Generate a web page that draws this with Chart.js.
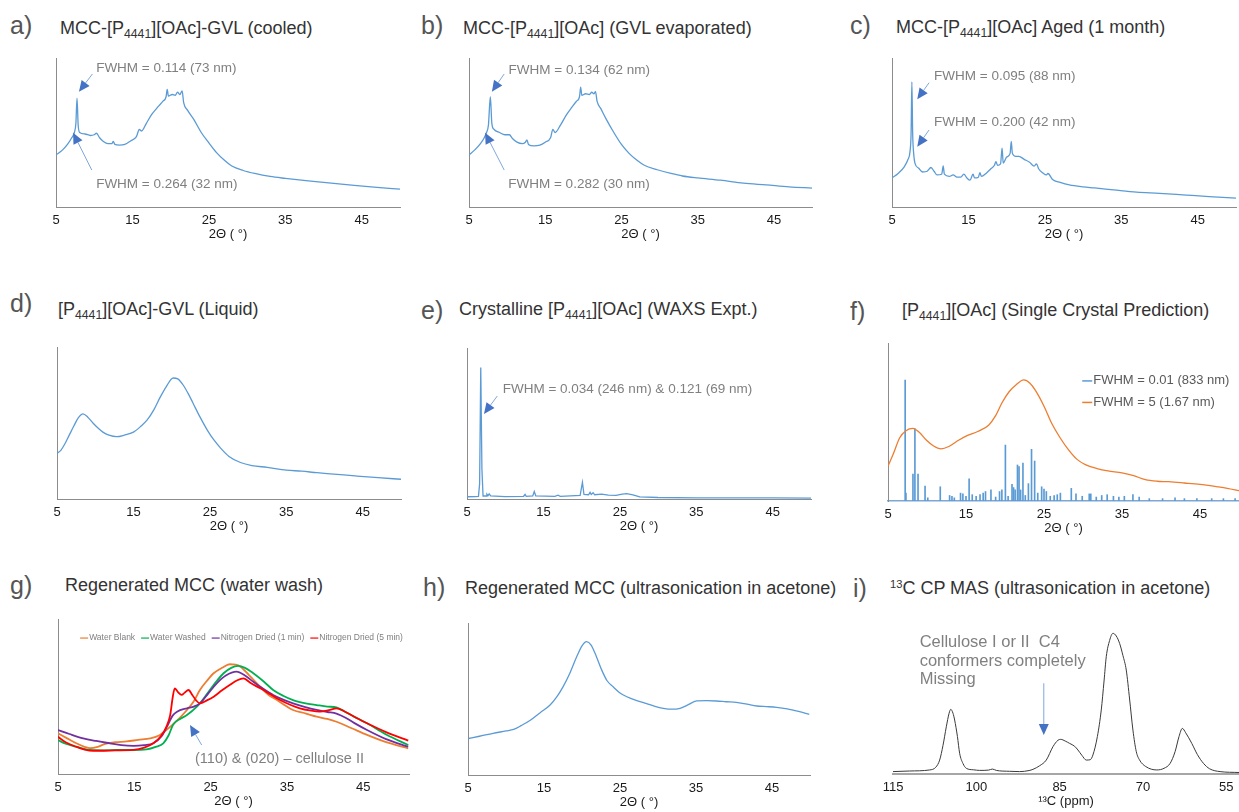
<!DOCTYPE html>
<html>
<head>
<meta charset="utf-8">
<script src="https://cdn.jsdelivr.net/npm/chart.js@4.4.1/dist/chart.umd.min.js"></script>
<style>
  html, body { margin: 0; padding: 0; background: #fff; }
  body { position: relative; width: 1239px; height: 812px; overflow: hidden; font-family: "Liberation Sans", Arial, sans-serif; }
  .lab { position: absolute; font-size: 25px; line-height: 25px; color: #555; }
  .ttl { position: absolute; font-size: 18px; line-height: 18px; color: #333; white-space: nowrap; }
  .ttl sub { font-size: 0.68em; vertical-align: -0.3em; line-height: 0; }
  .ttl sup { font-size: 0.62em; vertical-align: 0.55em; line-height: 0; }
  canvas { position: absolute; }
</style>
</head>
<body>
<div class="lab" style="left:10px;top:13px">a)</div>
<div class="ttl" style="left:60px;top:19px">MCC-[P<sub>4441</sub>][OAc]-GVL (cooled)</div>
<div class="lab" style="left:421px;top:13px">b)</div>
<div class="ttl" style="left:463px;top:19px">MCC-[P<sub>4441</sub>][OAc] (GVL evaporated)</div>
<div class="lab" style="left:850px;top:13px">c)</div>
<div class="ttl" style="left:896px;top:18px">MCC-[P<sub>4441</sub>][OAc] Aged (1 month)</div>
<div class="lab" style="left:10px;top:291px">d)</div>
<div class="ttl" style="left:58px;top:300px">[P<sub>4441</sub>][OAc]-GVL (Liquid)</div>
<div class="lab" style="left:421px;top:298px">e)</div>
<div class="ttl" style="left:459px;top:300px">Crystalline [P<sub>4441</sub>][OAc] (WAXS Expt.)</div>
<div class="lab" style="left:850px;top:299px">f)</div>
<div class="ttl" style="left:902px;top:301px">[P<sub>4441</sub>][OAc] (Single Crystal Prediction)</div>
<div class="lab" style="left:10px;top:573px">g)</div>
<div class="ttl" style="left:65px;top:576px">Regenerated MCC (water wash)</div>
<div class="lab" style="left:423px;top:575px">h)</div>
<div class="ttl" style="left:465px;top:579px">Regenerated MCC (ultrasonication in acetone)</div>
<div class="lab" style="left:853px;top:576px">i)</div>
<div class="ttl" style="left:890px;top:579px"><sup>13</sup>C CP MAS (ultrasonication in acetone)</div>

<script>
// ---- data (y in % of plot height) ----
const XTICKS = [5, 15, 25, 35, 45];
const PPM_TICKS = [115, 100, 85, 70, 55];

const aX = [5, 5.8, 6.5, 7, 7.4, 7.6, 7.75, 7.9, 8.1, 8.8, 9.5, 10, 10.3, 10.7, 11.2, 11.8, 12.3, 12.5, 12.7, 13.3, 14, 14.8, 15.5, 15.9, 16.2, 16.8, 17.5, 18.3, 19, 19.4, 19.55, 19.7, 20.2, 20.6, 20.9, 21.2, 21.5, 21.7, 22.2, 23, 24, 25, 26, 27, 28, 29.5, 31, 33, 35, 38, 41, 44, 47, 50];
const aY = [35, 38, 42, 46, 50, 56, 73, 55, 50, 49, 48, 48.5, 49.5, 46.5, 44, 42.5, 42.5, 44, 42, 41.5, 42, 44.5, 47, 52, 51, 56, 62, 67, 71, 74, 79, 74.5, 75.5, 75, 77, 75.5, 78, 70, 65, 59, 50, 43, 36.5, 31.5, 27.5, 24.5, 22.5, 20.5, 19.2, 17.5, 16, 14.5, 13.2, 12];

const bX = [5, 5.8, 6.5, 7, 7.3, 7.55, 7.8, 8, 8.3, 9, 9.7, 10.3, 10.7, 11.3, 12, 12.4, 12.6, 12.8, 13.5, 14.3, 15, 15.7, 16, 16.3, 17, 17.8, 18.5, 19.1, 19.5, 19.65, 19.8, 20.3, 20.8, 21.1, 21.4, 21.6, 21.8, 22.3, 23, 24, 25, 26, 27, 28, 29.7, 31.5, 33, 35, 38, 41, 44, 47, 50];
const bY = [35, 38.5, 42.5, 46.5, 50, 55, 74, 56, 52, 50, 48.5, 48.5, 46, 43.5, 42.5, 43.5, 45, 42, 41, 41.5, 43.5, 46.5, 52, 50, 55, 62, 67, 71, 74, 80.5, 75, 76, 75.5, 77, 76, 77.5, 71, 66, 59, 50, 42, 36, 31.5, 28, 25, 22.5, 20.8, 19.5, 18, 16, 14.8, 13.5, 12.7];

const cX = [5, 5.8, 6.6, 7.1, 7.35, 7.5, 7.6, 7.7, 7.85, 8, 8.5, 9, 9.6, 10.1, 10.5, 10.9, 11.5, 11.7, 11.85, 12.5, 13, 13.5, 14, 14.4, 14.8, 15.2, 15.6, 15.8, 16.3, 16.5, 16.7, 17.3, 17.9, 18.4, 18.6, 18.8, 19.2, 19.4, 19.55, 20, 20.45, 20.6, 20.75, 21.2, 21.6, 22.3, 23, 23.6, 23.9, 24.2, 24.7, 25.2, 25.4, 26, 27, 28.2, 30, 31.5, 34, 37, 40, 43.5, 46.5, 50];
const cY = [19.5, 22.5, 27, 32, 37, 50, 84, 50, 35, 29.5, 26, 23.5, 24, 26.5, 24, 21.5, 22, 27.5, 22, 20.5, 21.5, 20, 20, 22, 19.5, 18, 22, 19.5, 20, 23, 20.5, 22.5, 25.5, 28, 30.5, 28, 29, 39.5, 29.5, 33.5, 36, 44, 36, 34, 34, 32, 30, 27.5, 29, 25.5, 23, 21.5, 22.5, 18.5, 16.5, 14.8, 13.5, 12.8, 11.5, 10, 9.2, 8, 7, 6];

const dX = [5, 5.5, 6, 6.6, 7.2, 7.8, 8.4, 9, 9.7, 10.4, 11, 11.8, 12.8, 13.8, 15, 16, 16.8, 17.7, 18.5, 19.3, 20.2, 20.8, 21.5, 22.2, 22.8, 23.7, 24.7, 25.5, 26.4, 27.5, 29, 30.5, 32.5, 35, 37, 39, 41.2, 44, 47, 50];
const dY = [30, 32, 36, 42, 48, 53.5, 56, 54, 50, 46.5, 44, 42, 41, 42, 44, 48, 52, 59, 67, 74, 79.6, 79, 75, 69, 63, 54, 45, 39, 33.5, 28, 24, 22, 20.8, 19, 18.3, 17.3, 16.4, 15.2, 14, 13];

const eX = [5, 6, 6.5, 6.65, 6.8, 6.95, 7.1, 7.5, 7.6, 7.75, 7.9, 8.1, 10, 12.4, 12.6, 12.75, 13.6, 13.8, 14, 16.5, 16.9, 17.2, 19.8, 20.1, 20.3, 20.9, 21.1, 21.25, 21.5, 21.7, 22.6, 23.5, 24.5, 25.3, 25.9, 26.7, 27.6, 30, 35, 40, 45, 50];
const eY = [1.5, 1.6, 1.8, 10, 87, 20, 2, 2, 3.2, 2.2, 3.4, 2, 1.6, 1.8, 3, 1.8, 2, 5, 2, 1.8, 2.5, 1.8, 2.4, 11, 3, 2.8, 4.4, 3, 4.2, 2.8, 3.2, 2.6, 2.4, 3.2, 3.5, 2.8, 1.4, 1, 0.8, 0.7, 0.7, 0.6];

const fBroadX = [5, 5.7, 6.5, 7.3, 8.2, 9, 9.9, 10.8, 11.8, 12.8, 14.1, 15.2, 16.5, 17.9, 18.8, 19.6, 20.5, 21.4, 22.4, 23.2, 23.9, 25, 26, 27, 28.2, 29.2, 30.3, 31.8, 33.2, 35, 36.5, 38, 39.5, 41, 43, 45, 47.2, 48.5, 50];
const fBroadY = [22, 30, 40, 44.5, 46, 43.5, 38.6, 35, 33, 34.5, 38.6, 41.5, 44, 48, 54, 62, 69, 73.4, 76.6, 74.5, 70, 60, 49, 40.5, 32, 26.5, 23, 20.5, 19, 17.8, 16, 13.5, 12.5, 12.2, 11.4, 10.5, 9, 8, 6.5];
const fStickX = [7.2, 7.3, 8.2, 8.45, 8.85, 9.75, 10.1, 11.7, 12.9, 13.2, 13.5, 14.3, 14.6, 15, 15.4, 15.8, 16.3, 16.8, 17.2, 17.5, 18.2, 18.8, 19.3, 19.6, 20.05, 20.4, 20.9, 21.1, 21.3, 21.6, 21.8, 22, 22.3, 22.6, 23, 23.4, 23.8, 24.2, 24.7, 25, 25.3, 25.8, 26.3, 26.7, 27.1, 28.5, 29.1, 29.9, 30.8, 31, 31.7, 32.4, 33.1, 33.9, 34.6, 35.3, 36.4, 37.2, 38.5, 40.2, 41.8, 43, 44.6, 46.5, 48, 49.5];
const fStickY = [76.6, 5, 17, 45.6, 17, 9.5, 2, 9, 3.5, 3, 2, 5, 4.5, 3, 14, 4, 3, 4, 5, 6, 7, 2.5, 6, 7, 35.4, 3, 10.5, 8.5, 7, 22.8, 21.8, 7, 24, 3.5, 11, 32.7, 25.3, 5, 9, 7.5, 6, 3, 3.5, 4, 5, 8, 4.5, 3, 4.5, 4.5, 2.5, 3.5, 4, 3, 2.5, 3, 4, 2.5, 1.5, 1.5, 2, 1.5, 1.5, 1.5, 1.5, 1.5];

const gBlankX = [5, 6.2, 7.4, 8.5, 9.2, 10.2, 11.2, 12.5, 14, 15.5, 17.1, 18.3, 19.2, 20.5, 21.9, 22.8, 23.6, 24.5, 25.4, 26.5, 27.5, 28.3, 28.9, 30, 31.5, 32.6, 33.7, 35, 35.8, 37.5, 38.9, 40.3, 41.5, 43.5, 45.5, 48, 50.9];
const gBlankY = [26.3, 23, 19.8, 17.5, 16.6, 17.5, 19.5, 20.5, 21, 22, 23, 25, 28.4, 34, 41.3, 47, 54.2, 60, 65, 68.5, 70.8, 70.5, 69.2, 64, 56.3, 51, 47.7, 43.5, 41.3, 39, 37, 35.5, 33.7, 29.5, 25.2, 20.5, 16.6];
const gWashedX = [5, 6, 7.4, 9.2, 11, 12.7, 14.8, 16.6, 17.8, 18.8, 19.5, 20.1, 21, 21.9, 23.2, 24, 24.9, 25.8, 26.7, 27.7, 28.6, 29.5, 30.6, 32, 33.2, 34.5, 35.8, 37.3, 38.9, 40.3, 41.5, 42.5, 43.8, 45.5, 48, 50.9];
const gWashedY = [21.9, 19.5, 17.6, 15.5, 15.3, 15.5, 15.5, 15.9, 17.5, 19.8, 25, 32, 35.5, 38, 43.4, 48, 54.2, 60, 65, 68.5, 69.7, 68.5, 65, 59.5, 54.2, 50.5, 47.7, 45.8, 44.5, 43.5, 43, 40.5, 37, 32.7, 25.5, 18.7];
const gN1X = [5, 6.5, 8.3, 10, 11.8, 13.3, 14.9, 16.3, 17.5, 18.6, 19.5, 20, 20.6, 21.9, 22.8, 23.6, 24.7, 25.8, 27, 28.4, 29.5, 30.6, 31.9, 33.2, 34.5, 35.8, 37.3, 38.9, 40.3, 41.5, 42.8, 43.8, 45.5, 48, 50.9];
const gN1Y = [28.4, 25.8, 23, 21.3, 19.8, 18.6, 18.1, 18.6, 19.8, 24.5, 32.7, 37.5, 40.2, 42.4, 43.5, 45.6, 52, 58.5, 63.5, 66, 63.5, 59.5, 55, 51, 48, 45.6, 43.3, 41.3, 40, 39, 36, 33, 28.4, 22.5, 17.6];
const gN5X = [5, 6, 7.4, 8.5, 9.6, 11, 12.5, 14.9, 16.3, 17.5, 18.5, 19.2, 19.7, 20.05, 20.3, 20.7, 21.2, 21.6, 22.1, 22.6, 23.1, 23.6, 24.5, 25.4, 26.5, 27.5, 28.5, 29.3, 30.3, 31.5, 32.8, 34.1, 35.5, 36.7, 38, 39.3, 40.5, 41.5, 42.5, 44, 45.5, 48, 50.9];
const gN5Y = [24, 20.5, 17.6, 15.8, 15, 15, 15.2, 15.5, 17, 19.8, 24.5, 30.5, 38, 50, 55.3, 53, 51, 52.5, 54.2, 51, 47.5, 45.6, 47.5, 49.9, 54, 57.4, 60.5, 61.7, 58.5, 55.3, 51.5, 47.7, 44.5, 42.4, 41, 40.2, 41.2, 42.4, 40.5, 36.5, 32.7, 27, 21.5];

const hX = [5, 6.5, 8.3, 10, 11, 12, 13.2, 14.5, 15.8, 16.7, 17.5, 18.4, 19.3, 20, 20.6, 21.2, 21.9, 22.6, 23.3, 24.1, 25, 25.9, 27.2, 28.5, 29.6, 30.7, 31.8, 32.9, 33.8, 35.1, 36.4, 37.7, 39, 40.3, 41.7, 43, 44.3, 45.6, 47, 48.5, 49.9];
const hY = [24, 25.5, 27.4, 29, 30, 32.5, 36, 41, 46, 51.5, 58, 67, 77.8, 85, 87.7, 85.5, 77.8, 69, 62, 58, 54, 51.5, 49, 47, 45.2, 43.9, 43.3, 43.9, 45.8, 48.7, 48.9, 48.7, 48.2, 47.8, 46.6, 45.4, 45, 44.5, 43.5, 41.8, 39.9];

const iPpm = [115, 112, 108.4, 107.3, 106.6, 106, 105.4, 104.9, 104.6, 104.2, 103.9, 103.4, 103, 102.4, 101.8, 100.5, 99.4, 97.8, 97.1, 96.4, 94, 92.2, 90.5, 89.8, 88.6, 87.4, 86.2, 85.3, 84.8, 84, 83.2, 82.3, 81.7, 81, 80.2, 79.5, 79, 78.2, 77.5, 77, 76.6, 76, 75.4, 74.8, 74.2, 73.6, 73, 72.4, 71.8, 71.2, 70.6, 69.5, 67.5, 66.2, 65.1, 64.2, 63.5, 62.9, 62.3, 61.2, 60.2, 59.1, 58, 56.1, 52.7];
const iInt = [1.6, 2, 2.7, 4.5, 9.3, 19, 31.5, 40.5, 43.1, 40.5, 36, 25, 13.8, 7, 3.8, 2.8, 2.4, 2.6, 3.3, 2.4, 1.8, 1.6, 2.3, 3.1, 5.5, 9.3, 18.2, 22.5, 23.1, 22, 20.4, 18.5, 16, 12.5, 9.3, 9.5, 12.7, 25, 42.7, 62, 78.2, 89, 93.8, 92, 87.1, 79, 69.3, 50, 29.3, 15, 9.3, 5, 2.7, 3.8, 7.1, 15, 25, 30.4, 27.5, 20.4, 13, 7.1, 3.5, 1.6, 1];

// ---- styling ----
const BLUE = '#5B9BD5';
const ORANGE = '#ED7D31';
const NOTE = '#808080';
const ARROW = '#4472C4';
const PADL = 20, PADR = 20, PADT = 6, AXH = 37;

Chart.defaults.font.family = '"Liberation Sans", Arial, Helvetica, sans-serif';

const pts = (xs, ys) => xs.map((x, i) => ({ x, y: ys[i] }));

function arrow(ctx, x1, y1, x2, y2) {
  const ang = Math.atan2(y2 - y1, x2 - x1);
  const hl = 11, hw = 5;
  const bx = x2 - hl * Math.cos(ang), by = y2 - hl * Math.sin(ang);
  ctx.strokeStyle = '#7FA7DC';
  ctx.lineWidth = 1;
  ctx.beginPath(); ctx.moveTo(x1, y1); ctx.lineTo(bx, by); ctx.stroke();
  ctx.fillStyle = ARROW;
  ctx.beginPath();
  ctx.moveTo(x2, y2);
  ctx.lineTo(bx + hw * Math.sin(ang), by - hw * Math.cos(ang));
  ctx.lineTo(bx - hw * Math.sin(ang), by + hw * Math.cos(ang));
  ctx.closePath(); ctx.fill();
}

// notes, arrows and in-plot legends, placed in data coordinates
const notesPlugin = {
  id: 'notes',
  afterDatasetsDraw(chart, args, o) {
    const { ctx, scales: { x, y } } = chart;
    ctx.save();
    (o.arrows || []).forEach(a => arrow(ctx, x.getPixelForValue(a[0]), y.getPixelForValue(a[1]), x.getPixelForValue(a[2]), y.getPixelForValue(a[3])));
    ctx.textBaseline = 'middle';
    ctx.textAlign = 'left';
    ctx.fillStyle = NOTE;
    ctx.font = (o.size || 13.5) + 'px "Liberation Sans", Arial, sans-serif';
    (o.texts || []).forEach(t => ctx.fillText(t[0], x.getPixelForValue(t[1]), y.getPixelForValue(t[2])));
    const lg = o.legend;
    if (lg) {
      let px = x.getPixelForValue(lg.x), py = y.getPixelForValue(lg.y);
      ctx.font = lg.size + 'px "Liberation Sans", Arial, sans-serif';
      chart.data.datasets.forEach(ds => {
        ctx.strokeStyle = ds.type === 'bar' ? ds.backgroundColor : ds.borderColor;
        ctx.lineWidth = lg.lw;
        ctx.beginPath(); ctx.moveTo(px, py); ctx.lineTo(px + lg.sw, py); ctx.stroke();
        ctx.fillStyle = lg.color;
        ctx.fillText(ds.label, px + lg.sw + 1, py);
        if (lg.row) px += lg.sw + 1 + ctx.measureText(ds.label).width + lg.gap;
        else py += lg.step;
      });
    }
    ctx.restore();
  }
};

function panel(rect, datasets, cfg) {
  const [L, T, R, B] = rect;
  const cv = document.createElement('canvas');
  cv.width = R - L + PADL + PADR;
  cv.height = B - T + PADT + AXH;
  cv.style.left = (L - PADL) + 'px';
  cv.style.top = (T - PADT) + 'px';
  document.body.appendChild(cv);
  new Chart(cv.getContext('2d'), {
    type: 'line',
    data: { datasets },
    options: {
      responsive: false,
      animation: false,
      events: [],
      layout: { autoPadding: false, padding: { left: PADL, right: PADR, top: PADT, bottom: 0 } },
      elements: {
        point: { radius: 0 },
        line: { borderWidth: 1.3, cubicInterpolationMode: 'monotone' }
      },
      plugins: {
        legend: { display: false },
        tooltip: { enabled: false },
        notes: cfg.notes || {}
      },
      scales: {
        x: {
          type: 'linear',
          min: cfg.min ?? 5,
          max: cfg.max ?? 50,
          reverse: !!cfg.reverse,
          offset: false,
          afterBuildTicks: s => { s.ticks = (cfg.ticks || XTICKS).map(v => ({ value: v })); },
          afterFit: s => { s.height = AXH; },
          grid: { display: false, drawTicks: false },
          border: { color: cfg.xBorder || '#8c8c8c', width: cfg.xBorderW || 1 },
          ticks: { padding: 6, color: '#1a1a1a', font: { size: 13 }, maxRotation: 0, autoSkip: false },
          title: { display: true, text: cfg.xTitle || '2\u0398 ( \u00b0)', color: '#1a1a1a', font: { size: 13 }, padding: { top: 0, bottom: 2 } }
        },
        y: {
          type: 'linear',
          min: 0,
          max: 100,
          display: cfg.noY ? false : true,
          afterFit: s => { s.width = 0; },
          grid: { display: false, drawTicks: false },
          ticks: { display: false },
          border: { color: '#8c8c8c', width: 1 }
        }
      }
    },
    plugins: [notesPlugin]
  });
}

const line = (label, data, color, extra) => Object.assign({ label, data, borderColor: color, backgroundColor: color, fill: false }, extra || {});

panel([56, 58, 400, 207], [line('a', pts(aX, aY), BLUE)], {
  notes: {
    texts: [['FWHM = 0.114 (73 nm)', 10.25, 93.3], ['FWHM = 0.264 (32 nm)', 10.25, 15.4]],
    arrows: [[9.77, 89.3, 8.0, 77.4], [9.68, 24.8, 7.23, 49.9]]
  }
});

panel([469, 58, 812, 207], [line('b', pts(bX, bY), BLUE)], {
  notes: {
    texts: [['FWHM = 0.134 (62 nm)', 10.19, 91.9], ['FWHM = 0.282 (30 nm)', 10.15, 15.2]],
    arrows: [[9.62, 89.3, 8.0, 77.4], [9.62, 24.8, 7.11, 49.9]]
  }
});

panel([892, 58, 1236, 207], [line('c', pts(cX, cY), BLUE)], {
  notes: {
    texts: [['FWHM = 0.095 (88 nm)', 10.5, 87.9], ['FWHM = 0.200 (42 nm)', 10.5, 56.8]],
    arrows: [[9.85, 83.4, 8.3, 72.3], [9.85, 51.7, 8.3, 40.5]]
  }
});

panel([57, 347, 401, 499], [line('d', pts(dX, dY), BLUE)], {});

panel([467, 348, 811, 499], [line('e', pts(eX, eY), BLUE, { cubicInterpolationMode: 'default', tension: 0 })], {
  notes: {
    texts: [['FWHM = 0.034 (246 nm) & 0.121 (69 nm)', 9.67, 72.6]],
    arrows: [[8.96, 68.2, 7.22, 56.3]]
  }
});

panel([888, 343, 1239, 501], [
  { type: 'bar', label: 'FWHM = 0.01 (833 nm)', data: pts(fStickX, fStickY), backgroundColor: BLUE, barThickness: 1, order: 1 },
  line('FWHM = 5 (1.67 nm)', pts(fBroadX, fBroadY), ORANGE, { order: 0 })
], {
  xBorder: '#7fa7d6',
  xBorderW: 1.5,
  notes: { legend: { x: 29.9, y: 76, size: 13, sw: 10, lw: 1.5, step: 21.5, color: '#595959' } }
});

panel([58, 619, 409, 774], [
  line('Water Blank', pts(gBlankX, gBlankY), ORANGE, { borderWidth: 1.8, order: 3 }),
  line('Water Washed', pts(gWashedX, gWashedY), '#00B050', { borderWidth: 1.8, order: 2 }),
  line('Nitrogen Dried (1 min)', pts(gN1X, gN1Y), '#7030A0', { borderWidth: 1.8, order: 1 }),
  line('Nitrogen Dried (5 min)', pts(gN5X, gN5Y), '#FF0000', { borderWidth: 1.8, order: 0 })
], {
  max: 51,
  notes: {
    size: 14.5,
    texts: [['(110) & (020) \u2013 cellulose II', 22.96, 9.5]],
    arrows: [[23.83, 18.7, 22.3, 31.6]],
    legend: { x: 7.9, y: 87.7, size: 8.5, sw: 8, lw: 1.2, gap: 6, row: true, color: '#7f7f7f' }
  }
});

panel([468, 623, 810, 775], [line('h', pts(hX, hY), BLUE)], {});

panel([893, 624, 1239, 774], [line('i', pts(iPpm, iInt), '#3a3a3a', { borderWidth: 1 })], {
  min: 52.7, max: 115, reverse: true, ticks: PPM_TICKS, noY: true,
  xTitle: '\u00b9\u00b3C (ppm)', xBorder: '#a6a6a6', xBorderW: 2,
  notes: {
    size: 16.5,
    texts: [['Cellulose I or II  C4', 110.2, 88], ['conformers completely', 110.2, 74.7], ['Missing', 110.2, 62.7]],
    arrows: [[87.85, 60.5, 87.85, 26]]
  }
});
</script>
</body>
</html>
